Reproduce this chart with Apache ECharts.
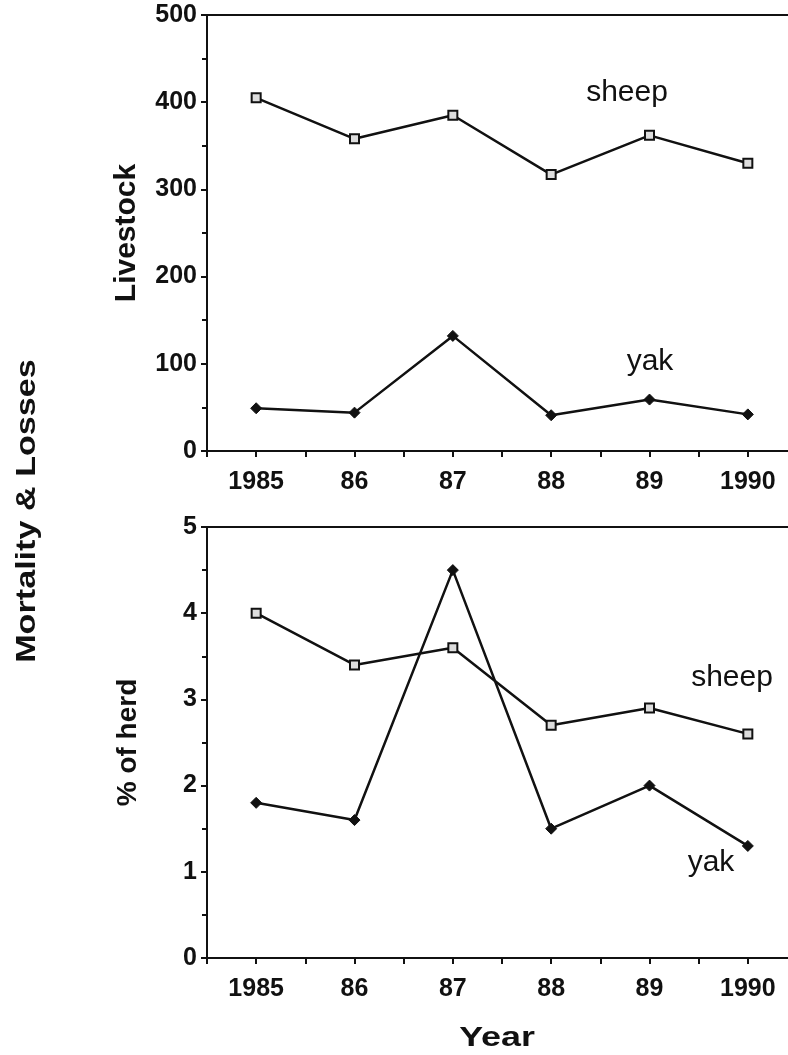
<!DOCTYPE html>
<html>
<head>
<meta charset="utf-8">
<script src="https://cdn.jsdelivr.net/npm/echarts@6/dist/echarts.min.js"></script>
<style>
  html, body { margin: 0; padding: 0; background: #fff; }
  #chart { width: 788px; height: 1055px; }
</style>
</head>
<body>
<div id="chart"></div>
<script>
// years on the x axis and their printed labels
const years = [1985, 1986, 1987, 1988, 1989, 1990]
const yearLabels = ['1985', '86', '87', '88', '89', '1990']

// top panel: number of animals lost
const sheepLivestock = [405, 358, 385, 317, 362, 330]
const yakLivestock = [49, 44, 132, 41, 59, 42]

// bottom panel: percent of herd lost
const sheepPct = [4.0, 3.4, 3.6, 2.7, 2.9, 2.6]
const yakPct = [1.8, 1.6, 4.5, 1.5, 2.0, 1.3]

const FONT = "'Liberation Sans', Arial, Helvetica, sans-serif"
const INK = '#111'

const pairs = (vals) => years.map((y, i) => [y, vals[i]])

const xAxisBase = (gridIndex) => ({
  type: 'value',
  gridIndex,
  min: 1984.5,
  max: 1990.5,
  interval: 0.5,
  splitLine: { show: false },
  axisLine: { lineStyle: { color: INK, width: 2 } },
  axisTick: { show: true, length: 6, lineStyle: { color: INK, width: 2 } },
  axisLabel: {
    color: INK,
    fontFamily: FONT,
    fontWeight: 'bold',
    fontSize: 25,
    margin: 19,
    formatter: (v) => {
      const i = years.indexOf(v)
      return i >= 0 ? yearLabels[i] : ''
    },
  },
})

const yAxisBase = (gridIndex, max, interval, name, nameSize) => ({
  type: 'value',
  gridIndex,
  min: 0,
  max,
  interval,
  splitLine: { show: false },
  axisLine: { show: true, lineStyle: { color: INK, width: 2 } },
  axisTick: { show: true, length: 6, lineStyle: { color: INK, width: 2 } },
  minorTick: { show: true, splitNumber: 2, length: 5, lineStyle: { color: INK, width: 2 } },
  axisLabel: { color: INK, fontFamily: FONT, fontWeight: 'bold', fontSize: 25, margin: 10 },
  name,
  nameLocation: 'middle',
  nameRotate: 90,
  nameGap: 65,
  nameTextStyle: { color: INK, fontFamily: FONT, fontWeight: 'bold', fontSize: nameSize },
})

const sheepStyle = {
  type: 'line',
  symbol: 'rect',
  symbolSize: 9,
  lineStyle: { color: INK, width: 2.5 },
  itemStyle: { color: '#ddd', borderColor: INK, borderWidth: 2 },
}
const yakStyle = {
  type: 'line',
  symbol: 'diamond',
  symbolSize: 11,
  lineStyle: { color: INK, width: 2.5 },
  itemStyle: { color: INK, borderColor: INK, borderWidth: 1 },
}

const seriesLabel = (x, y, text) => ({
  type: 'text',
  x,
  y,
  style: { text, font: '30px ' + FONT, fill: INK, align: 'center', verticalAlign: 'middle' },
})

// the panels run past the right edge of the page, as in the scan
const gridBase = {
  left: 207,
  width: 590,
  outerBoundsMode: 'none',
  containLabel: false,
  show: true,
  borderColor: INK,
  borderWidth: 2,
  backgroundColor: 'transparent',
}

const chart = echarts.init(document.getElementById('chart'), null, { renderer: 'canvas' })
chart.setOption({
  backgroundColor: '#fff',
  animation: false,
  grid: [
    { ...gridBase, top: 15, height: 436 },
    { ...gridBase, top: 527, height: 431 },
  ],
  xAxis: [xAxisBase(0), xAxisBase(1)],
  yAxis: [
    yAxisBase(0, 500, 100, 'Livestock', 30),
    yAxisBase(1, 5, 1, '% of herd', 28),
  ],
  series: [
    { ...sheepStyle, name: 'sheep', xAxisIndex: 0, yAxisIndex: 0, data: pairs(sheepLivestock) },
    { ...yakStyle, name: 'yak', xAxisIndex: 0, yAxisIndex: 0, data: pairs(yakLivestock) },
    { ...sheepStyle, name: 'sheep', xAxisIndex: 1, yAxisIndex: 1, data: pairs(sheepPct) },
    { ...yakStyle, name: 'yak', xAxisIndex: 1, yAxisIndex: 1, data: pairs(yakPct) },
  ],
  graphic: [
    seriesLabel(627, 93, 'sheep'),
    seriesLabel(650, 362, 'yak'),
    seriesLabel(732, 678, 'sheep'),
    seriesLabel(711, 863, 'yak'),
    {
      type: 'text',
      x: 27,
      y: 511,
      rotation: Math.PI / 2,
      scaleX: 1.22,
      style: {
        text: 'Mortality & Losses',
        font: 'bold 28px ' + FONT,
        fill: INK,
        align: 'center',
        verticalAlign: 'middle',
      },
    },
    {
      type: 'text',
      x: 497,
      y: 1038,
      scaleX: 1.28,
      style: {
        text: 'Year',
        font: 'bold 28px ' + FONT,
        fill: INK,
        align: 'center',
        verticalAlign: 'middle',
      },
    },
  ],
})
</script>
</body>
</html>
